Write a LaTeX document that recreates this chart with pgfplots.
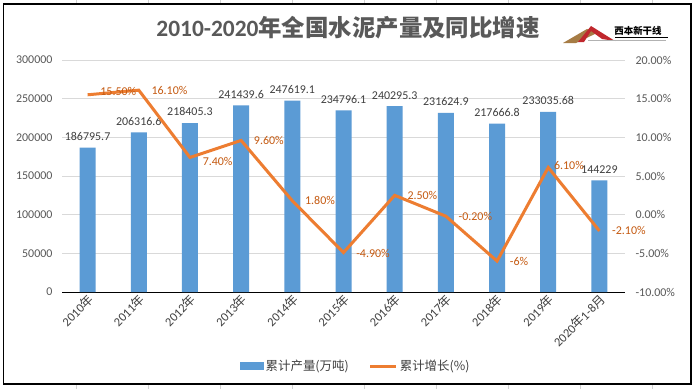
\documentclass[border=0pt]{standalone}
\usepackage{pgfplots}
\pgfplotsset{compat=1.18}
\usepackage{pgfplotstable}
\usepackage{fontspec}
\setmainfont{Carlito}
\newfontfamily\cjk{Noto Sans CJK SC}
\definecolor{barblue}{HTML}{5B9BD5}
\definecolor{lineor}{HTML}{ED7D31}
\definecolor{labor}{HTML}{C55A11}
\definecolor{txt}{HTML}{595959}
\definecolor{lbl}{HTML}{404040}
\definecolor{gridc}{HTML}{D9D9D9}
\definecolor{logored}{HTML}{C0272D}
\definecolor{logobrown}{HTML}{A67C45}

\pgfplotstableread{
x y label
0 186795.7 186795.7
1 206316.6 206316.6
2 218405.3 218405.3
3 241439.6 241439.6
4 247619.1 247619.1
5 234796.1 234796.1
6 240295.3 240295.3
7 231624.9 231624.9
8 217666.8 217666.8
9 233035.68 233035.68
10 144229 144229
}\prodtable

\pgfplotstableread{
x y label dx dy
0 15.5 15.50 8 3
1 16.1 16.10 8 0
2 7.4 7.40 8 -4
3 9.6 9.60 8 0
4 1.8 1.80 8 0
5 -4.9 -4.90 8 -1
6 2.5 2.50 8 0
7 -0.2 -0.20 8 0
8 -6 -6 8 0
9 6.1 6.10 1 2.5
10 -2.1 -2.10 8 0
}\growtable

\pgfplotsset{
  barleg/.style={legend image code/.code={\fill[barblue] (0bp,-3.5bp) rectangle (23bp,3.5bp);}},
  lineleg/.style={legend image code/.code={\draw[lineor,line width=3bp] (0bp,0bp)--(26bp,0bp);}},
}

\begin{document}
\begin{tikzpicture}[x=1bp,y=1bp]
\useasboundingbox (0,0) rectangle (696,389);
\fill[white] (0,0) rectangle (696,389);
\foreach \xx in {76,148,...,652} \draw[color=gray!35, line width=0.75bp] (\xx,0)--(\xx,389);
\draw[black, line width=1.2bp, fill=white] (3.5,5) rectangle (691,385);

\node[font=\fontsize{23.5}{26}\selectfont\bfseries, text=txt] at (348,361) {2010-2020{\cjk 年全国水泥产量及同比增速}};

% logo
\fill[logobrown] (563,346) -- (587,360) -- (597,356) -- (576,346) -- cycle;
\fill[logored] (578,347) -- (591,363) -- (615,348) -- (602,350) -- (591,358) -- (584,347) -- cycle;
\node[font=\fontsize{9.5}{10}\selectfont\bfseries, text=black, inner sep=0] at (638,358) {\cjk 西本新干线};
\draw[black, line width=0.6bp] (615,352) -- (668,352);
\draw[gray!60, line width=1bp] (588,348.5) -- (666,348.5);

\begin{axis}[
  at={(62bp,97bp)}, anchor=south west,
  scale only axis, width=563bp, height=232bp,
  xmin=-0.5, xmax=10.5, ymin=0, ymax=300000,
  axis x line*=bottom, axis y line*=left,
  y axis line style={draw=none},
  x axis line style={black, line width=0.9bp},
  ytick={0,50000,100000,150000,200000,250000,300000},
  scaled y ticks=false,
  /pgf/number format/.cd, fixed, set thousands separator={}, assume math mode=true,
  /pgfplots/.cd,
  ymajorgrids, grid style={gridc, line width=0.75bp},
  major tick length=0,
  xtick={0,...,10},
  xticklabels={2010{\cjk 年},2011{\cjk 年},2012{\cjk 年},2013{\cjk 年},2014{\cjk 年},2015{\cjk 年},2016{\cjk 年},2017{\cjk 年},2018{\cjk 年},2019{\cjk 年},2020{\cjk 年}1-8{\cjk 月}},
  xticklabel style={rotate=45, anchor=east, font=\fontsize{12.5}{14}\selectfont, text=lbl, yshift=-6bp, xshift=2bp},
  yticklabel style={font=\fontsize{12}{14}\selectfont, text=txt, xshift=-6bp},
  clip=false,
]
\addplot[ybar, bar width=16bp, fill=barblue, draw=none,
  nodes near coords, point meta=explicit symbolic,
  every node near coord/.append style={font=\fontsize{12}{14}\selectfont, text=lbl, anchor=south, yshift=3.5bp}]
  table[x=x, y=y, meta=label] {\prodtable};
\end{axis}

\begin{axis}[
  at={(62bp,97bp)}, anchor=south west,
  scale only axis, width=563bp, height=232bp,
  xmin=-0.5, xmax=10.5, ymin=-10, ymax=20,
  axis x line=none, axis y line*=right,
  y axis line style={draw=none},
  ytick={-10,-5,0,5,10,15,20},
  major tick length=0,
  yticklabel={\pgfmathprintnumber[fixed,fixed zerofill,precision=2,assume math mode=true]{\tick}\%},
  yticklabel style={font=\fontsize{12}{14}\selectfont, text=txt, xshift=7bp},
  clip=false,
  legend style={draw=none, fill=none, at={(0.522,-0.319)}, anchor=center,
    font=\fontsize{12.5}{14}\selectfont, text=lbl,
    /tikz/every even column/.append style={column sep=18bp}},
  legend columns=2,
]
\addlegendimage{barleg}
\addlegendentry{\cjk 累计产量(万吨)}
\addlegendimage{lineleg}
\addlegendentry{\cjk 累计增长(\%)}
\addplot[lineor, line width=3bp, no markers, forget plot,
  nodes near coords={\pgfplotspointmeta\%}, point meta=explicit symbolic,
  visualization depends on={\thisrow{dx} \as \dx},
  visualization depends on={\thisrow{dy} \as \dy},
  every node near coord/.append style={font=\fontsize{12}{14}\selectfont, text=labor, anchor=west, xshift=\dx bp, yshift=\dy bp}]
  table[x=x, y=y, meta=label] {\growtable};
\end{axis}
\end{tikzpicture}
\end{document}
